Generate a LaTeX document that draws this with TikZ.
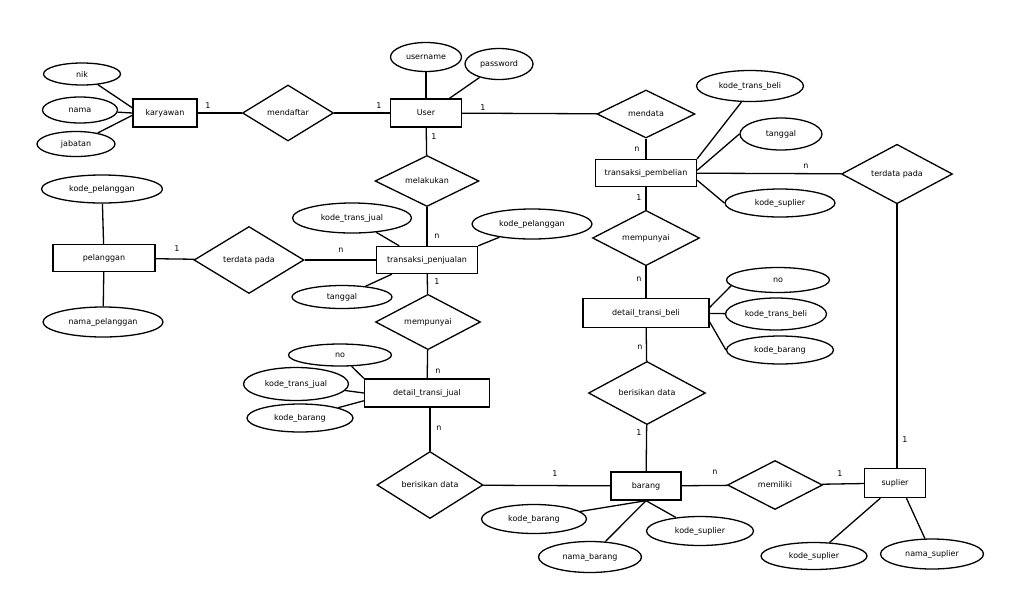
\documentclass[tikz,border=0pt]{standalone}
\usepackage{fontspec}
\setmainfont{DejaVu Sans}
\usetikzlibrary{shapes.geometric}

\begin{document}
\begin{tikzpicture}[x=1pt,y=-1pt,font=\fontsize{8}{9.6}\selectfont,
    entitas/.style={draw,line width=1.3pt,rectangle,inner sep=0pt},
    atribut/.style={draw,line width=1.3pt,ellipse,inner sep=0pt},
    relasi/.style={draw,line width=1.3pt,diamond,inner sep=0pt},
    garis/.style={line width=1.3pt},
    kard/.style={inner sep=0pt}]
%\draw[help lines] (0,0) grid[step=50] (1011,590);
\fill[white] (0,0) rectangle (1011,590);
\useasboundingbox (0,0) rectangle (1011,590);

% entitas
\node[entitas,minimum width=64pt,minimum height=28pt] (kary) at (165,113) {karyawan};
\node[entitas,minimum width=71pt,minimum height=28pt] (user) at (426,113) {User};
\node[entitas,minimum width=101pt,minimum height=27pt] (tpb) at (646,173) {transaksi\_pembelian};
\node[entitas,minimum width=102pt,minimum height=27pt] (pel) at (104,258) {pelanggan};
\node[entitas,minimum width=101pt,minimum height=27pt] (tpj) at (427,260) {transaksi\_penjualan};
\node[entitas,minimum width=125pt,minimum height=28pt] (dtj) at (427,393) {detail\_transi\_jual};
\node[entitas,minimum width=126pt,minimum height=29pt] (dtb) at (646,313) {detail\_transi\_beli};
\node[entitas,minimum width=70pt,minimum height=28pt] (brg) at (646,486) {barang};
\node[entitas,minimum width=61pt,minimum height=29pt] (sup) at (895,483) {suplier};

% relasi
\node[relasi,minimum width=91pt,minimum height=56pt] (daftar) at (288,113) {mendaftar};
\node[relasi,minimum width=98pt,minimum height=48pt] (mendata) at (646,114) {mendata};
\node[relasi,minimum width=104pt,minimum height=51pt] (laku) at (427,181) {melakukan};
\node[relasi,minimum width=111pt,minimum height=56pt] (terdataB) at (897,174) {terdata pada};
\node[relasi,minimum width=110pt,minimum height=67pt] (terdataA) at (249,260) {terdata pada};
\node[relasi,minimum width=105pt,minimum height=53pt] (punyaA) at (428,322) {mempunyai};
\node[relasi,minimum width=107pt,minimum height=52pt] (punyaB) at (646,238) {mempunyai};
\node[relasi,minimum width=117pt,minimum height=59pt] (isiB) at (647,393) {berisikan data};
\node[relasi,minimum width=106pt,minimum height=67pt] (isiA) at (430,485) {berisikan data};
\node[relasi,minimum width=95pt,minimum height=49pt] (milik) at (775,485) {memiliki};

% atribut
\node[atribut,minimum width=77pt,minimum height=22pt] (nik) at (82,74) {nik};
\node[atribut,minimum width=75pt,minimum height=26pt] (nama) at (80,110) {nama};
\node[atribut,minimum width=78pt,minimum height=25pt] (jabatan) at (76,144) {jabatan};
\node[atribut,minimum width=71pt,minimum height=29pt] (uname) at (426,57) {username};
\node[atribut,minimum width=68pt,minimum height=31pt] (pass) at (499,64) {password};
\node[atribut,minimum width=107pt,minimum height=31pt] (ktbA) at (750,86) {kode\_trans\_beli};
\node[atribut,minimum width=82pt,minimum height=32pt] (tglB) at (781,134) {tanggal};
\node[atribut,minimum width=110pt,minimum height=28pt] (ksupA) at (780,203) {kode\_suplier};
\node[atribut,minimum width=121pt,minimum height=28pt] (kpelA) at (102,189) {kode\_pelanggan};
\node[atribut,minimum width=120pt,minimum height=30pt] (npel) at (103,322) {nama\_pelanggan};
\node[atribut,minimum width=119pt,minimum height=30pt] (ktjA) at (352,218) {kode\_trans\_jual};
\node[atribut,minimum width=100pt,minimum height=23pt] (tglA) at (342,297) {tanggal};
\node[atribut,minimum width=120pt,minimum height=30pt] (kpelB) at (532,224) {kode\_pelanggan};
\node[atribut,minimum width=103pt,minimum height=22pt] (noA) at (340,355) {no};
\node[atribut,minimum width=105pt,minimum height=33pt] (ktjB) at (296,384) {kode\_trans\_jual};
\node[atribut,minimum width=106pt,minimum height=28pt] (kbrA) at (300,418) {kode\_barang};
\node[atribut,minimum width=103pt,minimum height=25pt] (noB) at (778,280) {no};
\node[atribut,minimum width=101pt,minimum height=32pt] (ktbB) at (776,314) {kode\_trans\_beli};
\node[atribut,minimum width=107pt,minimum height=28pt] (kbrB) at (780,350) {kode\_barang};
\node[atribut,minimum width=105pt,minimum height=29pt] (kbrC) at (534,519) {kode\_barang};
\node[atribut,minimum width=103pt,minimum height=31pt] (nbrg) at (590,557) {nama\_barang};
\node[atribut,minimum width=107pt,minimum height=29pt] (ksupB) at (700,531) {kode\_suplier};
\node[atribut,minimum width=106pt,minimum height=27pt] (ksupC) at (814,556) {kode\_suplier};
\node[atribut,minimum width=103pt,minimum height=30pt] (nsup) at (932,554) {nama\_suplier};

% garis atribut
\draw[garis] (nik) -- (kary.171);
\draw[garis] (nama) -- (kary.west);
\draw[garis] (jabatan) -- (kary.184);
\draw[garis] (uname) -- (user);
\draw[garis] (pass) -- (user.32);
\draw[garis] (ktbA.242) -- (tpb.north east);
\draw[garis] (tpb.3) -- (tglB.west);
\draw[garis] (tpb.-8) -- (ksupA.west);
\draw[garis] (kpelA) -- (pel);
\draw[garis] (pel) -- (npel);
\draw[garis] (ktjA) -- (tpj.153);
\draw[garis] (kpelB) -- (tpj.north east);
\draw[garis] (tglA) -- (tpj.202);
\draw[garis] (noA) -- (dtj.north west);
\draw[garis] (ktjB) -- (dtj.west);
\draw[garis] (kbrA) -- (dtj.187);
\draw[garis] (noB.187) -- (dtb.5);
\draw[garis] (dtb) -- (ktbB);
\draw[garis] (dtb.-8) -- (kbrB.west);
\draw[garis] (kbrC) -- (brg.south);
\draw[garis] (nbrg) -- (brg.south);
\draw[garis] (ksupB) -- (brg.south);
\draw[garis] (ksupC) -- (sup.226);
\draw[garis] (nsup) -- (sup.-53);

% garis relasi
\draw[garis] (kary) -- (daftar);
\draw[garis] (daftar) -- (user);
\draw[garis] (user) -- (mendata);
\draw[garis] (user) -- (laku);
\draw[garis] (mendata) -- (tpb);
\draw[garis] (tpb) -- (terdataB);
\draw[garis] (tpb) -- (punyaB);
\draw[garis] (terdataB) -- (terdataB |- sup.north);
\draw[garis] (pel) -- (terdataA);
\draw[garis] (terdataA) -- (tpj);
\draw[garis] (laku) -- (tpj);
\draw[garis] (tpj) -- (punyaA);
\draw[garis] (punyaA) -- (dtj);
\draw[garis] (dtj.south -| isiA) -- (isiA);
\draw[garis] (isiA) -- (brg);
\draw[garis] (punyaB) -- (dtb);
\draw[garis] (dtb) -- (isiB);
\draw[garis] (isiB) -- (brg);
\draw[garis] (brg) -- (milik);
\draw[garis] (milik) -- (sup);

% kardinalitas
\node[kard] (c1) at (208,106) {1};
\node[kard] (c2) at (379,106) {1};
\node[kard] (c3) at (483,108) {1};
\node[kard] (c4) at (434,137) {1};
\node[kard] (c5) at (637,149) {n};
\node[kard] (c6) at (639,198) {1};
\node[kard] (c7) at (806,166) {n};
\node[kard] (c8) at (177,249) {1};
\node[kard] (c9) at (341,250) {n};
\node[kard] (c10) at (437,236) {n};
\node[kard] (c11) at (437,282) {1};
\node[kard] (c12) at (438,371) {n};
\node[kard] (c13) at (439,428) {n};
\node[kard] (c14) at (639,279) {n};
\node[kard] (c15) at (640,347) {n};
\node[kard] (c16) at (639,433) {1};
\node[kard] (c17) at (555,474) {1};
\node[kard] (c18) at (715,472) {n};
\node[kard] (c19) at (840,474) {1};
\node[kard] (c20) at (905,440) {1};
\end{tikzpicture}
\end{document}
